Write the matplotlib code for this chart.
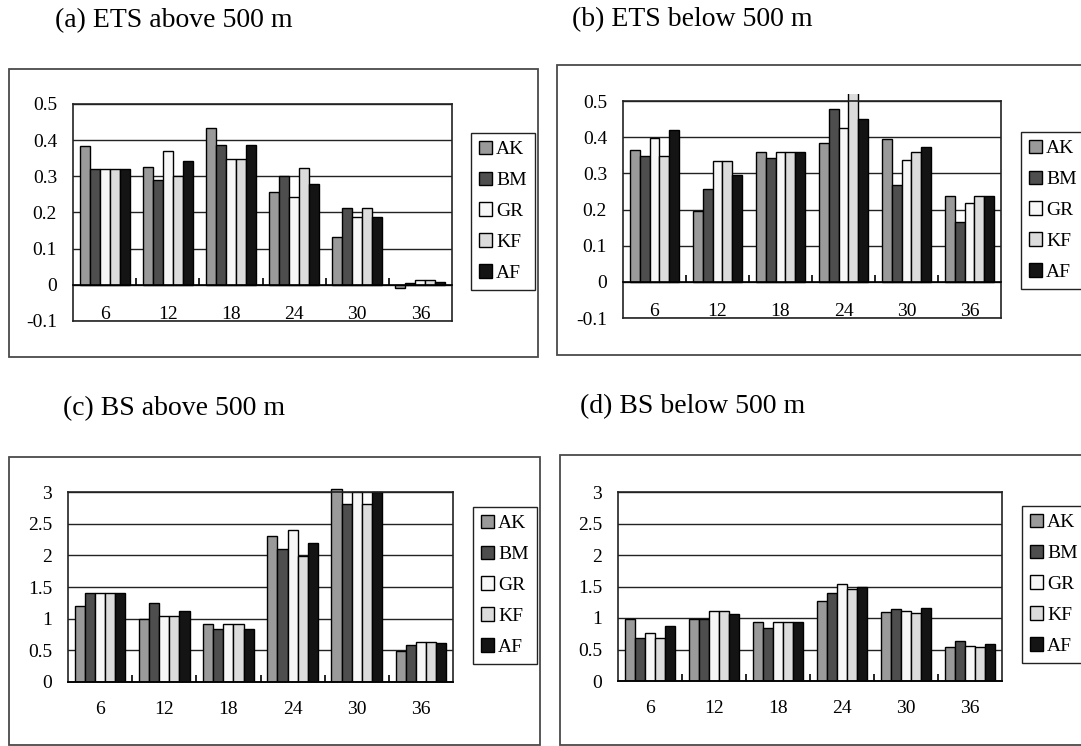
import numpy as np
import matplotlib.pyplot as plt
from matplotlib.patches import Rectangle
from matplotlib.transforms import Bbox, TransformedBbox

plt.rcParams['font.family'] = ['Liberation Serif', 'DejaVu Serif']

# forecast hours on the x axis, one group of bars each
hours = ['6', '12', '18', '24', '30', '36']
models = ['AK', 'BM', 'GR', 'KF', 'AF']
colores = ['#9a9a9a', '#4e4e4e', '#f7f7f7', '#dcdcdc', '#141414']

# rows follow the order of models: AK, BM, GR, KF, AF
ets_above = [
    [0.384, 0.325, 0.435, 0.258, 0.132, -0.010],
    [0.320, 0.290, 0.386, 0.300, 0.213, 0.005],
    [0.320, 0.370, 0.349, 0.242, 0.188, 0.012],
    [0.320, 0.300, 0.349, 0.324, 0.213, 0.012],
    [0.320, 0.343, 0.386, 0.279, 0.188, 0.008],
]
ets_below = [
    [0.364, 0.197, 0.359, 0.385, 0.394, 0.237],
    [0.347, 0.256, 0.342, 0.479, 0.267, 0.166],
    [0.399, 0.335, 0.359, 0.425, 0.337, 0.219],
    [0.347, 0.335, 0.359, 0.550, 0.358, 0.236],
    [0.421, 0.295, 0.359, 0.451, 0.373, 0.238],
]
bs_above = [
    [1.200, 0.995, 0.916, 2.300, 3.050, 0.497],
    [1.400, 1.250, 0.843, 2.105, 2.810, 0.586],
    [1.400, 1.050, 0.916, 2.400, 3.000, 0.634],
    [1.400, 1.050, 0.916, 1.995, 2.810, 0.634],
    [1.400, 1.125, 0.843, 2.200, 3.000, 0.613],
]
bs_below = [
    [0.990, 0.990, 0.942, 1.270, 1.095, 0.534],
    [0.675, 0.990, 0.836, 1.400, 1.148, 0.640],
    [0.755, 1.106, 0.942, 1.534, 1.106, 0.561],
    [0.675, 1.106, 0.942, 1.466, 1.074, 0.534],
    [0.870, 1.063, 0.942, 1.490, 1.153, 0.593],
]
ets_ticks = [-0.1, 0, 0.1, 0.2, 0.3, 0.4, 0.5]
bs_ticks = [0, 0.5, 1, 1.5, 2, 2.5, 3]

W, H = 1081, 746
fig = plt.figure(figsize=(W / 100, H / 100), dpi=100)


def fig_rect(l, t, r, b):
    return [l / W, 1 - b / H, (r - l) / W, (b - t) / H]


# data, title, title pos, plot area, frame, legend top-left, ticks, label pad
paneles = [
    (ets_above, '(a) ETS above 500 m', (55, 21), (73, 104, 452, 321),
     (9, 69, 538, 357), (471, 133), ets_ticks, -11),
    (ets_below, '(b) ETS below 500 m', (572, 20), (623, 101, 1001, 318),
     (557, 65, 1082, 355), (1021, 132), ets_ticks, -11),
    (bs_above, '(c) BS above 500 m', (63, 409), (68, 492, 453, 682),
     (9, 457, 540, 745), (473, 507), bs_ticks, 13.5),
    (bs_below, '(d) BS below 500 m', (580, 407), (618, 492, 1002, 681),
     (560, 455, 1082, 745), (1022, 506), bs_ticks, 13.5),
]

x = np.arange(len(hours)) + 0.5
ancho = 0.158

for datos, titulo, tpos, area, marco, leg_pos, ticks, xpad in paneles:
    fig.text(tpos[0] / W, 1 - tpos[1] / H, titulo, fontsize=20,
             ha='left', va='center')
    l, t, r, b = marco
    fig.add_artist(Rectangle((l / W, 1 - b / H), (r - l) / W, (b - t) / H,
                             transform=fig.transFigure, fill=False,
                             ec='#4a4a4a', lw=1.3))

    ax = fig.add_axes(fig_rect(*area))
    ymin, ymax = ticks[0], ticks[-1]
    clip = TransformedBbox(Bbox([[0, 0], [1, 1.03]]), ax.transAxes)
    for i, (nombre, color) in enumerate(zip(models, colores)):
        barras = ax.bar(x + (i - 2) * ancho, datos[i], width=ancho,
                        color=color, edgecolor='black', linewidth=1.0,
                        label=nombre)
        for p in barras:
            p.set_clip_box(clip)

    ax.set_xlim(0, len(hours))
    ax.set_ylim(ymin, ymax)
    ax.set_yticks(ticks)
    ax.set_yticklabels([f'{v:g}' for v in ticks])
    ax.set_xticks(x)
    ax.set_xticklabels(hours)
    ax.tick_params(axis='y', length=0, pad=11.5, labelsize=14)
    ax.tick_params(axis='x', length=0, pad=xpad, labelsize=14)
    ax.yaxis.grid(True, color='#222222', linewidth=1.0)
    ax.set_axisbelow(True)
    for s in ax.spines.values():
        s.set_linewidth(1.2)
        s.set_color('#222222')

    # category axis sits at zero, with small ticks between groups
    cero = ax.secondary_xaxis((0 - ymin) / (ymax - ymin))
    cero.set_zorder(5)
    cero.xaxis.set_ticks_position('bottom')
    cero.set_xticks(np.arange(1, len(hours)))
    cero.set_xticklabels([])
    cero.tick_params(axis='x', which='major', bottom=True, direction='in',
                     length=5, width=1.2, color='black')
    cero.spines['bottom'].set_visible(True)
    cero.spines['bottom'].set_linewidth(1.2)

    leg = ax.legend(loc='upper left', bbox_to_anchor=(leg_pos[0] / W, 1 - leg_pos[1] / H),
                    bbox_transform=fig.transFigure, borderaxespad=0,
                    fontsize=14, handlelength=0.7, handleheight=0.7,
                    handletextpad=0.2, labelspacing=0.68, borderpad=0.4,
                    fancybox=False, framealpha=1, edgecolor='#222222')
    leg.get_frame().set_linewidth(1.0)

fig.savefig('out.png', dpi=100)
